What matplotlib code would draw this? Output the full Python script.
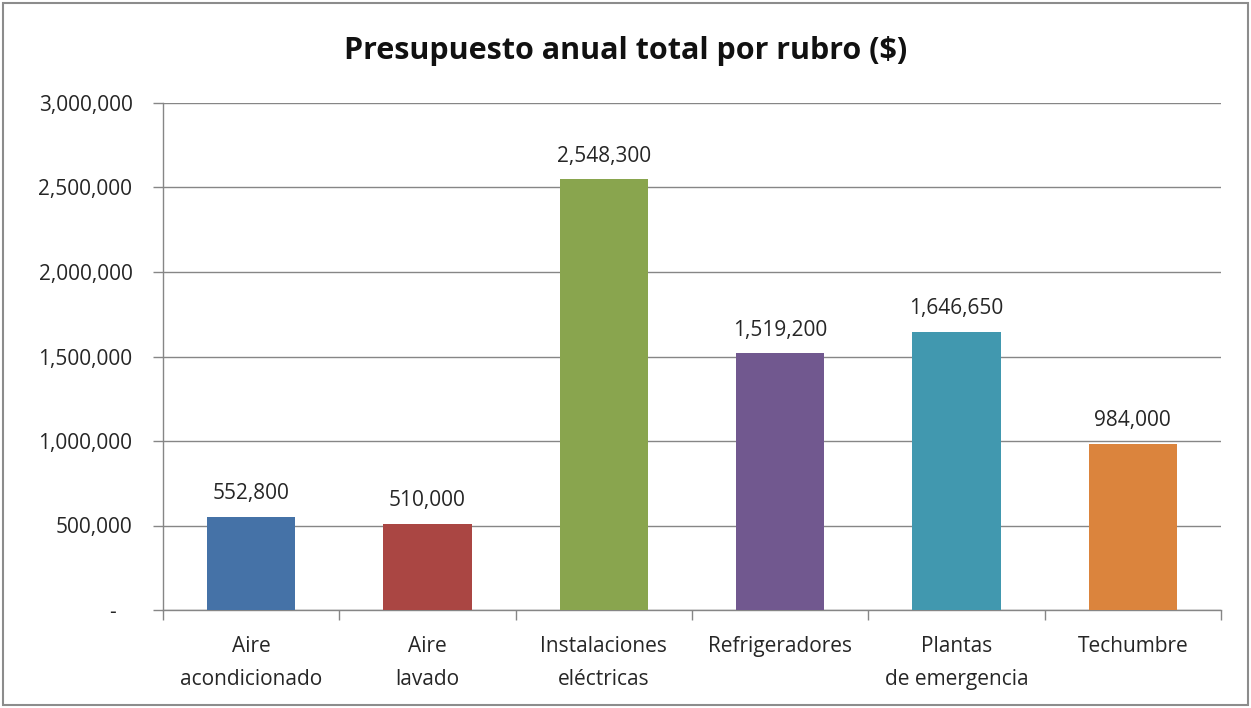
import matplotlib
matplotlib.use("Agg")
import matplotlib.pyplot as plt
from matplotlib.ticker import FuncFormatter, MultipleLocator, FixedLocator
from matplotlib.patches import Rectangle

categories = ["Aire\nacondicionado", "Aire\nlavado", "Instalaciones\neléctricas",
              "Refrigeradores", "Plantas\nde emergencia", "Techumbre"]
values = [552800, 510000, 2548300, 1519200, 1646650, 984000]
colors = ["#4572A7", "#AA4643", "#89A54E", "#71588F", "#4198AF", "#DB843D"]
title = "Presupuesto anual total por rubro ($)"

plt.rcParams['font.family'] = ['Open Sans', 'DejaVu Sans']

fig = plt.figure(figsize=(12.51, 7.08), dpi=100)
ax = fig.add_axes([163/1251, 1 - 610/708, (1221-163)/1251, (610-103)/708])

x = list(range(len(categories)))
bars = ax.bar(x, values, width=0.5, color=colors, zorder=3)

ax.set_xlim(-0.5, len(categories) - 0.5)
ax.set_ylim(0, 3000000)
ax.yaxis.set_major_locator(MultipleLocator(500000))

def yfmt(v, pos):
    if abs(v) < 1:
        return "-   "
    return f"{int(v):,}"
ax.yaxis.set_major_formatter(FuncFormatter(yfmt))
ax.grid(axis='y', color='#868686', linewidth=1, zorder=0)

ax.set_xticks(x)
ax.set_xticklabels(categories, fontsize=15, color='#262626', linespacing=1.75)
ax.tick_params(axis='x', which='major', length=0, pad=19)
ax.xaxis.set_minor_locator(FixedLocator([i - 0.5 for i in range(len(categories) + 1)]))
ax.tick_params(axis='x', which='minor', length=7, color='#868686', width=1, direction='out')
ax.tick_params(axis='y', length=7, color='#868686', width=1, direction='out',
               labelsize=15, labelcolor='#262626', pad=15)

for s in ['top', 'right']:
    ax.spines[s].set_visible(False)
for s in ['left', 'bottom']:
    ax.spines[s].set_color('#868686')
    ax.spines[s].set_linewidth(1)

for b, v in zip(bars, values):
    ax.annotate(f"{v:,}", (b.get_x() + b.get_width() / 2, v), xytext=(0, 9),
                textcoords='offset points', ha='center', va='bottom',
                fontsize=15, color='#262626')

fig.text(0.5, 1 - 51/708, title, ha='center', va='center', fontsize=22,
         fontweight='bold', color='#111111')

fig.patches.append(Rectangle((3/1251, 3/708), 1245/1251, 702/708, transform=fig.transFigure,
                             fill=False, edgecolor='#8c8c8c', linewidth=1.5))

fig.savefig("out.png", dpi=100)
